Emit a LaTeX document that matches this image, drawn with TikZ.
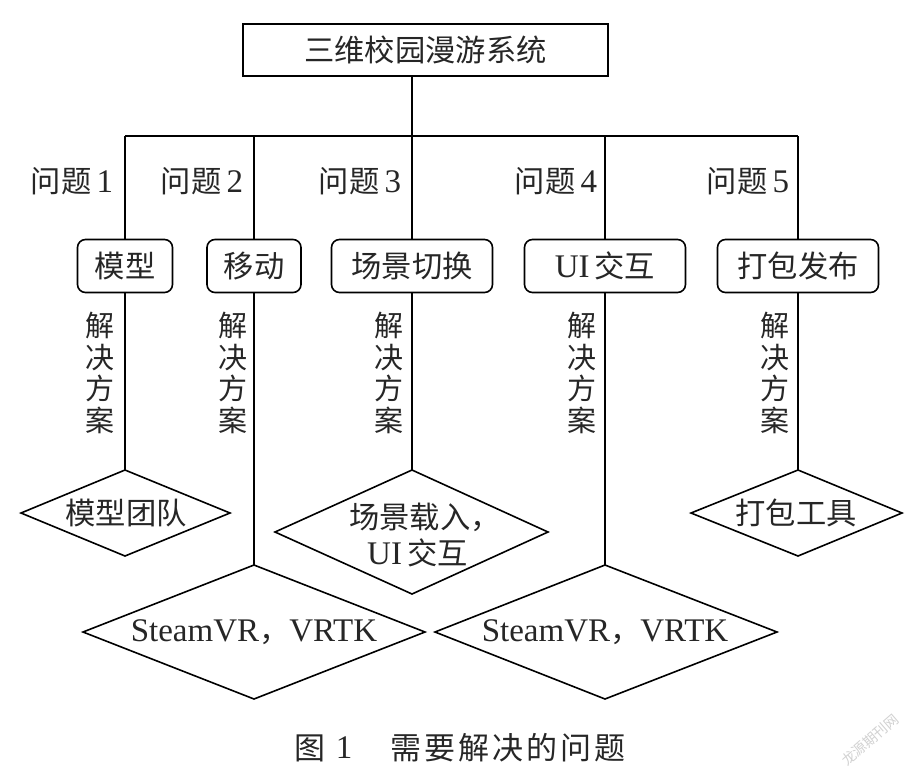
\documentclass[tikz,border=0pt]{standalone}
\usepackage{fontspec}
\setmainfont{Liberation Serif}
\newfontfamily\cjk{Noto Sans CJK SC}
\newcommand{\lat}[1]{{\fontsize{33}{34}\selectfont\rmfamily #1}}
\tikzset{x=1pt,y=-1pt,
 lbl/.style={font=\fontsize{30.3}{34}\selectfont\cjk,inner sep=0pt,text=black!85},
 boxnode/.style={draw,line width=1.6pt,rounded corners=8pt,minimum height=53pt,inner sep=0pt,font=\fontsize{30.3}{34}\selectfont\cjk,text=black!85},
 dia/.style={draw,line width=1.6pt},
 conn/.style={draw,line width=1.6pt},
 vert/.style={font=\fontsize{29}{31.5}\selectfont\cjk,inner sep=0pt,align=center,text=black!85}}
\begin{document}
\begin{tikzpicture}
\useasboundingbox (0,0) rectangle (912,780);
\node[draw,line width=1.6pt,minimum width=365pt,minimum height=52pt,inner sep=0pt,lbl] (top) at (425.5,50) {三维校园漫游系统};
\coordinate (bus) at (412,136);
\coordinate (b1) at (125,136);
\coordinate (b2) at (254,136);
\coordinate (b3) at (412,136);
\coordinate (b4) at (605,136);
\coordinate (b5) at (798,136);
\node[boxnode,minimum width=95pt] (n1) at (125,266) {模型};
\node[boxnode,minimum width=94pt] (n2) at (254,266) {移动};
\node[boxnode,minimum width=161pt] (n3) at (412,266) {场景切换};
\node[boxnode,minimum width=161pt] (n4) at (605,266) {\lat{UI}\hspace{5pt}交互};
\node[boxnode,minimum width=161pt] (n5) at (798,266) {打包发布};
\node[lbl] (q1) at (72,181) {问题\hspace{5pt}\lat{1}};
\node[lbl] (q2) at (202,181) {问题\hspace{5pt}\lat{2}};
\node[lbl] (q3) at (360,181) {问题\hspace{5pt}\lat{3}};
\node[lbl] (q4) at (556,181) {问题\hspace{5pt}\lat{4}};
\node[lbl] (q5) at (748,181) {问题\hspace{5pt}\lat{5}};
\node[vert] (s1) at (100,373) {解\\决\\方\\案};
\node[vert] (s2) at (233,373) {解\\决\\方\\案};
\node[vert] (s3) at (389,373) {解\\决\\方\\案};
\node[vert] (s4) at (582,373) {解\\决\\方\\案};
\node[vert] (s5) at (775,373) {解\\决\\方\\案};
\path[dia] (125,470) -- (230,513) -- (125,556) -- (21,513) -- cycle;
\node[lbl] (d1) at (126,513) {模型团队};
\path[dia] (412,470) -- (548,532) -- (412,594) -- (275,532) -- cycle;
\node[lbl,anchor=west,align=left] (d3) at (349,535) {场景载入，\\[2pt]\hspace*{18pt}\lat{UI}\hspace{5pt}交互};
\path[dia] (798,470) -- (902,513) -- (798,556) -- (691,513) -- cycle;
\node[lbl] (d5) at (796,513) {打包工具};
\path[dia] (254,565) -- (425,632) -- (254,699) -- (83,632) -- cycle;
\node[lbl] (d2) at (254,632) {\lat{SteamVR}，\lat{VRTK}};
\path[dia] (605,565) -- (777,632) -- (605,699) -- (435,632) -- cycle;
\node[lbl] (d4) at (605,632) {\lat{SteamVR}，\lat{VRTK}};
\draw[conn] (top.south -| bus) -- (bus);
\draw[conn] (b1) -- (b5);
\draw[conn] (b1) -- (n1.north);
\draw[conn] (b2) -- (n2.north);
\draw[conn] (b3) -- (n3.north);
\draw[conn] (b4) -- (n4.north);
\draw[conn] (b5) -- (n5.north);
\draw[conn] (n1.south) -- (125,470);
\draw[conn] (n2.south) -- (254,565);
\draw[conn] (n3.south) -- (412,470);
\draw[conn] (n4.south) -- (605,565);
\draw[conn] (n5.south) -- (798,470);
\node[lbl,font=\fontsize{31}{34}\selectfont\cjk] (cap1) at (310,748) {图};
\node[lbl] (cap2) at (344,748) {\lat{1}};
\node[lbl,font=\fontsize{31}{34}\selectfont\cjk] (cap3) at (508,748) {需\hspace{3pt}要\hspace{3pt}解\hspace{3pt}决\hspace{3pt}的\hspace{3pt}问\hspace{3pt}题};
\node[font=\fontsize{14}{16}\selectfont\cjk,text=black!18,rotate=41,inner sep=0pt] (wm) at (870,740) {龙源期刊网};
\end{tikzpicture}
\end{document}
